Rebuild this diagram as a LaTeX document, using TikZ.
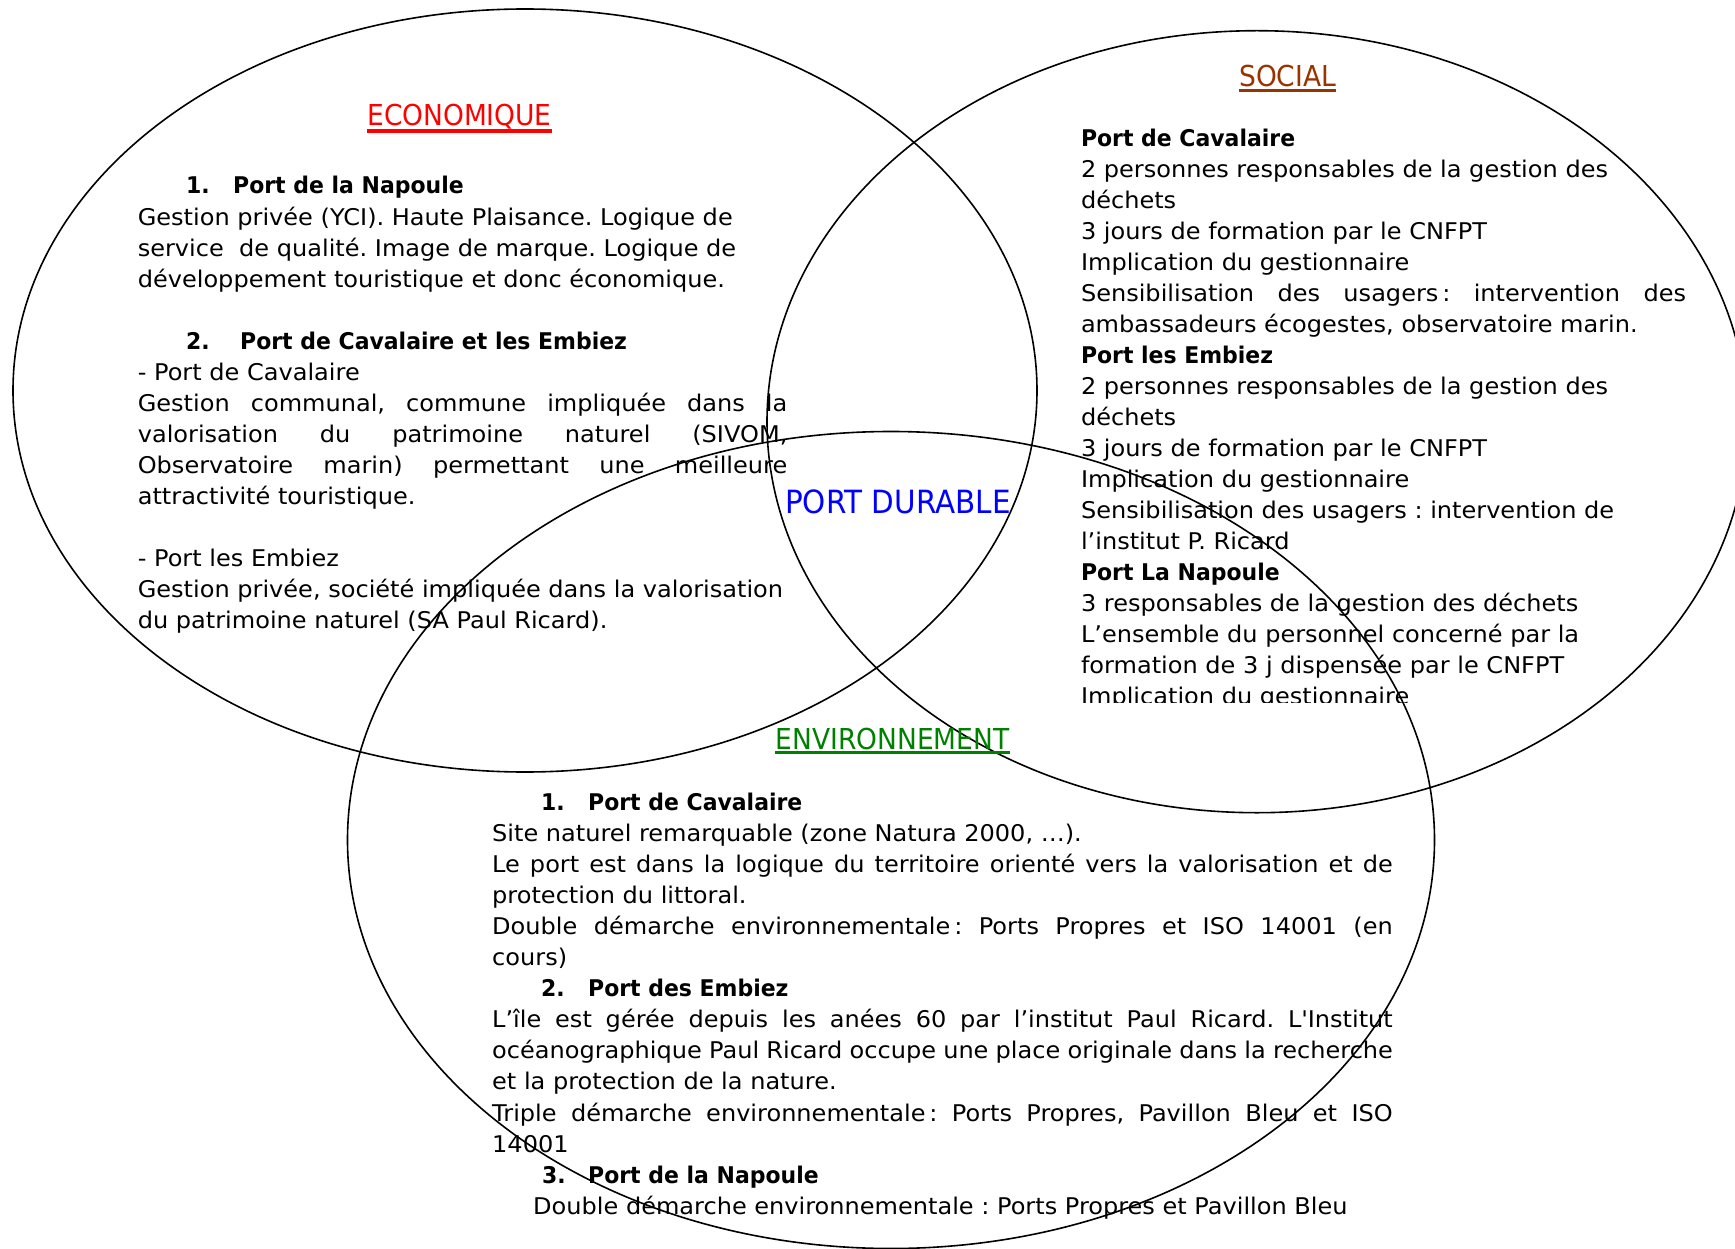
\documentclass[tikz,border=0pt]{standalone}
\usepackage{fontspec}
\setmainfont{DejaVu Sans}[FakeStretch=1.045, BoldFeatures={FakeStretch=0.955}]
\newfontfamily\titlefam{DejaVu Sans}[FakeStretch=0.92]
\usetikzlibrary{shapes.geometric}
\definecolor{socialbrown}{RGB}{153,51,0}
\definecolor{envgreen}{RGB}{0,128,0}
\newcommand\bodyfont{\fontsize{23}{31}\selectfont}
\newcommand\titlefont{\titlefam\fontsize{28.8}{34}\selectfont}
\frenchspacing
\begin{document}
\frenchspacing
\begin{tikzpicture}[x=1pt,y=-1pt,
  ring/.style={draw, ellipse, line width=1.6pt, inner sep=0pt},
  txt/.style={anchor=base west, inner sep=0pt, font=\bodyfont\frenchspacing},
  title/.style={anchor=base, inner sep=0pt, font=\titlefont},
  uline/.style={line width=3.2pt}]
\useasboundingbox (0,0) rectangle (1735,1249);
\fill[white] (0,0) rectangle (1735,1249);
% rings
\node[ring, minimum width=1024pt, minimum height=763pt] (ecoring) at (525,390.5) {};
\node[ring, minimum width=980pt, minimum height=782pt] (socring) at (1257,421.7) {};
\node[ring, minimum width=1087pt, minimum height=817pt] (envring) at (891,840) {};
% titles
\node[title, text=red] (ecotitle) at (459.5,126) {ECONOMIQUE};
\draw[red, uline] ([yshift=-5pt]ecotitle.base west) -- ([yshift=-5pt]ecotitle.base east);
\node[title, text=socialbrown] (soctitle) at (1287.6,86.7) {SOCIAL};
\draw[socialbrown, uline] ([yshift=-4pt]soctitle.base west) -- ([yshift=-4pt]soctitle.base east);
\node[title, text=envgreen] (envtitle) at (892.5,749.3) {ENVIRONNEMENT};
\draw[envgreen, uline] ([yshift=-3.5pt]envtitle.base west) -- ([yshift=-3.5pt]envtitle.base east);
\node[anchor=base west, inner sep=0pt, font=\titlefam\fontsize{32}{36}\selectfont, text=blue] (portdurable) at (785,513) {PORT DURABLE};
% economique
\foreach \linetext [count=\i from 0] in {
 {\hspace*{48.4pt}\makebox[47pt][l]{\bfseries 1.}\textbf{Port de la Napoule}},
 {Gestion privée (YCI). Haute Plaisance. Logique de},
 {service\ \ de qualité. Image de marque. Logique de},
 {développement touristique et donc économique.},
 {},
 {\hspace*{48.4pt}\makebox[54pt][l]{\bfseries 2.}\textbf{Port de Cavalaire et les Embiez}},
 {- Port de Cavalaire},
 {\makebox[649.5pt][s]{Gestion communal, commune impliquée dans la}},
 {\makebox[649.5pt][s]{valorisation du patrimoine naturel (SIVOM,}},
 {\makebox[649.5pt][s]{Observatoire marin) permettant une meilleure}},
 {attractivité touristique.},
 {},
 {- Port les Embiez},
 {Gestion privée, société impliquée dans la valorisation},
 {du patrimoine naturel (SA Paul Ricard).}}
 \node[txt] (eco\i) at (137.6,{194+\i*31.05}) {\linetext};
% social
\begin{scope}
\clip (1000,0) rectangle (1735,702);
\foreach \linetext [count=\i from 0] in {
 {\textbf{Port de Cavalaire}},
 {2 personnes responsables de la gestion des},
 {déchets},
 {3 jours de formation par le CNFPT},
 {Implication du gestionnaire},
 {\makebox[605pt][s]{Sensibilisation des usagers\,: intervention des}},
 {ambassadeurs écogestes, observatoire marin.},
 {\textbf{Port les Embiez}},
 {2 personnes responsables de la gestion des},
 {déchets},
 {3 jours de formation par le CNFPT},
 {Implication du gestionnaire},
 {Sensibilisation des usagers : intervention de},
 {l’institut P. Ricard},
 {\textbf{Port La Napoule}},
 {3 responsables de la gestion des déchets},
 {L’ensemble du personnel concerné par la},
 {formation de 3 j dispensée par le CNFPT},
 {Implication du gestionnaire}}
 \node[txt] (soc\i) at (1080.8,{147+\i*30.95}) {\linetext};
\end{scope}
% environnement
\foreach \linetext [count=\i from 0] in {
 {\hspace*{49pt}\makebox[47pt][l]{\bfseries 1.}\textbf{Port de Cavalaire}},
 {Site naturel remarquable (zone Natura 2000, …).},
 {\makebox[900.6pt][s]{Le port est dans la logique du territoire orienté vers la valorisation et de}},
 {protection du littoral.},
 {\makebox[900.6pt][s]{Double démarche environnementale\,: Ports Propres et ISO 14001 (en}},
 {cours)},
 {\hspace*{49pt}\makebox[47pt][l]{\bfseries 2.}\textbf{Port des Embiez}},
 {\makebox[900.6pt][s]{L’île est gérée depuis les anées 60 par l’institut Paul Ricard. L\textquotesingle Institut}},
 {\makebox[900.6pt][s]{océanographique Paul Ricard occupe une place originale dans la recherche}},
 {et la protection de la nature.},
 {\makebox[900.6pt][s]{Triple démarche environnementale\,: Ports Propres, Pavillon Bleu et ISO}},
 {14001},
 {\hspace*{50pt}\makebox[46pt][l]{\bfseries 3.}\textbf{Port de la Napoule}},
 {\hspace*{41pt}Double démarche environnementale : Ports Propres et Pavillon Bleu}}
 \node[txt] (env\i) at (492,{810.5+\i*31.05}) {\linetext};
\end{tikzpicture}
\end{document}
